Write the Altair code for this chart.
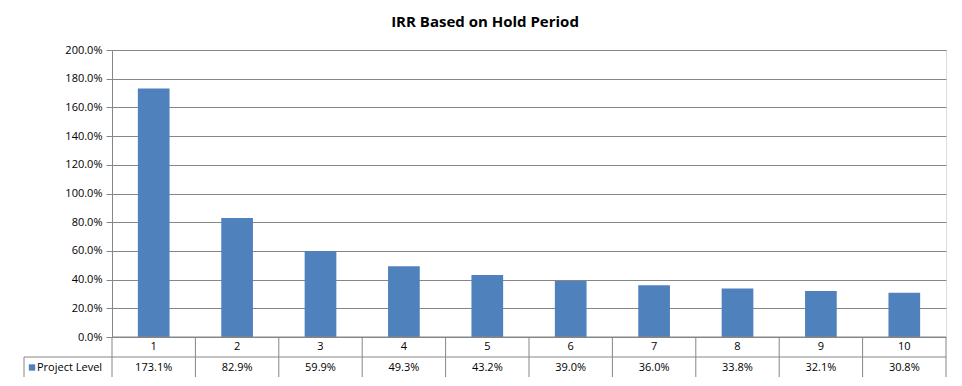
import altair as alt
import pandas as pd

periods = [1, 2, 3, 4, 5, 6, 7, 8, 9, 10]
irr = [1.731, 0.829, 0.599, 0.493, 0.432, 0.390, 0.360, 0.338, 0.321, 0.308]
series_name = "Project Level"
title_text = "IRR Based on Hold Period"

df = pd.DataFrame({"period": periods, "irr": irr})
one = pd.DataFrame({"k": [0]})

W, H = 834, 287
ROW1, ROW2 = 20, 21
FONT = "Open Sans"
BLUE = "#4F81BD"
GRID = "#868686"
LEG_W = 88

xenc = alt.X("period:O", axis=None, scale=alt.Scale(paddingInner=0, paddingOuter=0))

bars = alt.Chart(df).mark_bar(color=BLUE, width=alt.RelativeBandSize(0.38)).encode(
    x=xenc,
    y=alt.Y("irr:Q",
            scale=alt.Scale(domain=[0, 2], nice=False),
            axis=alt.Axis(values=[i / 10 for i in range(0, 21, 2)], format=".1%",
                          title=None, grid=True, gridColor=GRID, gridWidth=1,
                          domainColor=GRID, tickColor=GRID, tickSize=6,
                          labelFont=FONT, labelFontSize=11, labelColor="#000000",
                          labelPadding=4)),
)

# vertical table lines at left edge of each category band
vlines = alt.Chart(df).mark_rule(color=GRID, strokeWidth=1).encode(
    x=alt.X("period:O", bandPosition=0, axis=None),
    y=alt.value(H), y2=alt.value(H + ROW1 + ROW2),
)
right_line = alt.Chart(one).mark_rule(color=GRID).encode(
    x=alt.value(W), y=alt.value(H), y2=alt.value(H + ROW1 + ROW2))
left_leg = alt.Chart(one).mark_rule(color=GRID).encode(
    x=alt.value(-LEG_W), y=alt.value(H + ROW1), y2=alt.value(H + ROW1 + ROW2))
h_top = alt.Chart(one).mark_rule(color=GRID).encode(
    x=alt.value(0), x2=alt.value(W), y=alt.value(H))
h_mid = alt.Chart(one).mark_rule(color=GRID).encode(
    x=alt.value(-LEG_W), x2=alt.value(W), y=alt.value(H + ROW1))
h_bot = alt.Chart(one).mark_rule(color=GRID).encode(
    x=alt.value(-LEG_W), x2=alt.value(W), y=alt.value(H + ROW1 + ROW2))

cat_text = alt.Chart(df).mark_text(font=FONT, fontSize=11, color="#000000", baseline="middle").encode(
    x=alt.X("period:O", axis=None), y=alt.value(H + ROW1 / 2), text="period:O")
val_text = alt.Chart(df).mark_text(font=FONT, fontSize=11, color="#000000", baseline="middle").encode(
    x=alt.X("period:O", axis=None), y=alt.value(H + ROW1 + ROW2 / 2),
    text=alt.Text("irr:Q", format=".1%"))

leg_sq = alt.Chart(one).mark_square(color=BLUE, size=40, opacity=1).encode(
    x=alt.value(-LEG_W + 8), y=alt.value(H + ROW1 + ROW2 / 2))
leg_txt = alt.Chart(pd.DataFrame({"name": [series_name]})).mark_text(
    font=FONT, fontSize=11, color="#000000", align="left", baseline="middle").encode(
    x=alt.value(-LEG_W + 13), y=alt.value(H + ROW1 + ROW2 / 2), text="name:N")

chart = alt.layer(bars, vlines, right_line, left_leg, h_top, h_mid, h_bot,
                  cat_text, val_text, leg_sq, leg_txt).properties(
    width=W, height=H,
    title=alt.TitleParams(title_text, font=FONT, fontSize=15, fontWeight="bold",
                          color="#000000", anchor="middle", dx=-44, offset=14),
    autosize=alt.AutoSizeParams(type="none"),
    padding={"left": 104, "top": 42, "right": 8, "bottom": 40},
).configure_view(stroke=None).configure(background="white")

chart.save("out.html", embed_options={"renderer": "svg", "actions": False})
